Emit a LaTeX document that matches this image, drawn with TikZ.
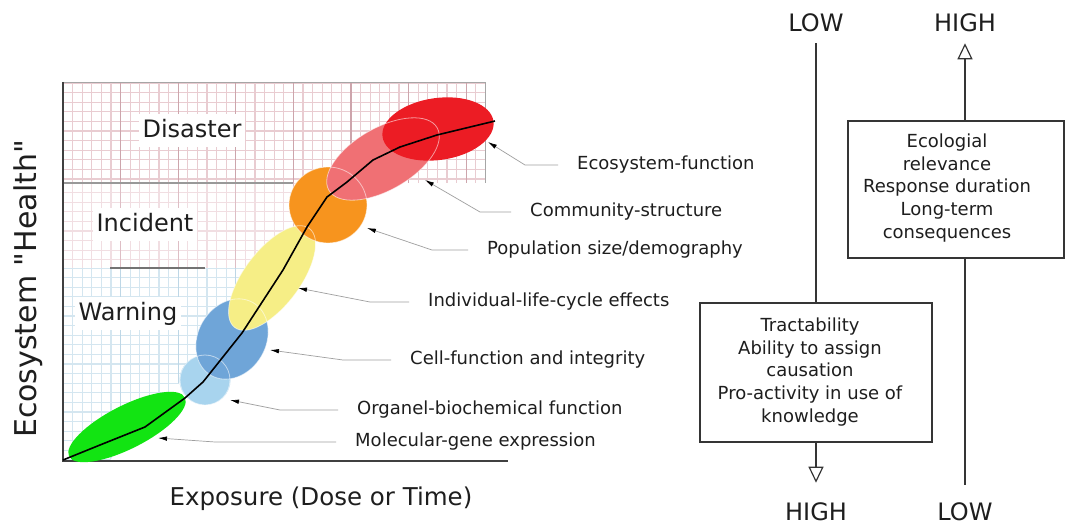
\documentclass[tikz,border=0pt]{standalone}
\usepackage{fontspec}
\setmainfont{DejaVu Sans}
% plain family without TeX ligature mapping, so " stays a straight quote
\newfontfamily\plainsans{DejaVu Sans}
\usetikzlibrary{arrows.meta,shapes.geometric}

\definecolor{redE}{RGB}{236,28,36}
\definecolor{pinkE}{RGB}{240,112,116}
\definecolor{orangeE}{RGB}{247,148,30}
\definecolor{yellowE}{RGB}{246,238,134}
\definecolor{blueE}{RGB}{111,165,216}
\definecolor{lblueE}{RGB}{168,212,238}
\definecolor{greenE}{RGB}{18,228,18}
\definecolor{gridPk}{RGB}{233,204,209}
\definecolor{gridPkM}{RGB}{205,165,172}
\definecolor{gridLp}{RGB}{241,222,226}
\definecolor{gridLpM}{RGB}{222,190,197}
\definecolor{gridBl}{RGB}{212,230,240}
\definecolor{gridBlM}{RGB}{190,215,230}
\definecolor{ink}{RGB}{30,30,30}

\begin{document}
\begin{tikzpicture}[x=1pt,y=-1pt,
  blob/.style={ellipse, draw=none, inner sep=0pt, outer sep=0pt},
  ghost/.style={draw=white, draw opacity=0.55, line width=0.8pt},
  zone/.style={fill=white, text=ink, font=\fontsize{24}{28}\selectfont,
    inner xsep=4pt, inner ysep=5pt, text height=18pt, text depth=5pt},
  lab/.style={anchor=west, text=ink, font=\fontsize{18}{22}\selectfont,
    inner xsep=19pt, inner ysep=0pt, text height=13pt, text depth=4pt},
  pointer/.style={draw=gray!75, line width=0.7pt,
    -{Latex[length=9pt,width=4.5pt,black]}},
  big/.style={text=ink, font=\fontsize{24}{28}\selectfont, inner sep=0pt},
  box/.style={draw=ink!90, line width=1.3pt, minimum width=#1, inner sep=0pt},
  boxtext/.style={text=ink, align=center, font=\fontsize{18}{22.6}\selectfont},
  axisline/.style={draw=ink!90, line width=1.3pt},
  opentip/.style={-{Triangle[open,length=16pt,width=15pt,line width=1.2pt]}},
  curve/.style={draw=black, line width=1.6pt, line join=round}
]
\useasboundingbox[fill=white] (0,0) rectangle (1066,527);

% ---- grid backgrounds of the three zones ----
\begin{scope}
  \clip (63,83) rectangle (485,183);
  \foreach \k in {0,...,44} \draw[gridPk, line width=1.2pt] ({63+9.6*\k},83) -- ({63+9.6*\k},183);
  \foreach \k in {0,...,10} \draw[gridPk, line width=1.2pt] (63,{83+9.6*\k}) -- (485,{83+9.6*\k});
  \foreach \k in {0,6,...,42} \draw[gridPkM, line width=1.2pt] ({63+9.6*\k},83) -- ({63+9.6*\k},183);
\end{scope}
\begin{scope}
  \clip (63,183) rectangle (300,268);
  \foreach \k in {0,...,25} \draw[gridLp, line width=1.2pt] ({63+9.6*\k},183) -- ({63+9.6*\k},268);
  \foreach \k in {0,...,9} \draw[gridLp, line width=1.2pt] (63,{183+9.6*\k}) -- (300,{183+9.6*\k});
  \foreach \k in {0,6,...,24} \draw[gridLpM, line width=1.2pt] ({63+9.6*\k},183) -- ({63+9.6*\k},268);
\end{scope}
\begin{scope}
  \clip (63,268) -- (255,268) -- (255,300) -- (205,360) -- (160,400) -- (110,460) -- (63,460) -- cycle;
  \foreach \k in {0,...,21} \draw[gridBl, line width=1.2pt] ({63+9.6*\k},268) -- ({63+9.6*\k},460);
  \foreach \k in {0,...,20} \draw[gridBl, line width=1.2pt] (63,{268+9.6*\k}) -- (255,{268+9.6*\k});
  \foreach \k in {0,6,...,18} \draw[gridBlM, line width=1.2pt] ({63+9.6*\k},268) -- ({63+9.6*\k},460);
\end{scope}

% zone frame and separators
\draw[gray!70, line width=1pt] (63,83) -- (485,83) -- (485,183);
\draw[gray!80, line width=1.2pt] (63,183) -- (293,183);
\draw[gray!90!black, line width=1.2pt] (110,268) -- (205,268);

% axes
\draw[ink!85, line width=1.3pt] (63,82) -- (63,461) -- (508,461);

% zone names
\node[zone] (dis) at (192,130.5) {Disaster};
\node[zone] (inc) at (145,224.5) {Incident};
\node[zone] (war) at (128,313.5) {Warning};

% ---- response ellipses, lowest level first ----
\node[blob, fill=greenE,  minimum width=130pt, minimum height=43pt, rotate=27] (gene) at (127,427) {};
\node[blob, fill=lblueE,  minimum width=51pt,  minimum height=50pt] (organ) at (205,380) {};
\node[blob, fill=blueE,   minimum width=84pt,  minimum height=68pt, rotate=60] (cell) at (232,339) {};
\node[blob, fill=yellowE, minimum width=124pt, minimum height=56pt, rotate=53] (indiv) at (272,278) {};
\node[blob, fill=orangeE, minimum width=78pt,  minimum height=76pt] (pop) at (328,205) {};
\node[blob, fill=pinkE,   minimum width=125pt, minimum height=62pt, rotate=30] (comm) at (383,159) {};
\node[blob, fill=redE,    minimum width=112pt, minimum height=62pt, rotate=8] (eco) at (438,129) {};

% faint rims of the ellipses
\draw[ghost] (organ.center) circle [radius=25];
\draw[ghost, rotate around={60:(cell.center)}] (cell.center) ellipse [x radius=42, y radius=34];
\draw[ghost, rotate around={53:(indiv.center)}] (indiv.center) ellipse [x radius=62, y radius=28];
\draw[ghost] (pop.center) ellipse [x radius=39, y radius=38];
\draw[ghost, rotate around={30:(comm.center)}] (comm.center) ellipse [x radius=62.5, y radius=31];

% dose-response curve
\draw[curve] plot coordinates {(63,460) (100,445) (145,427) (185,398) (203,382)
  (242,333) (283,270) (307,227) (327,197) (347,182) (373,160) (400,147) (437,135) (495,121)};

% axis titles
\node[text=ink, font=\plainsans\fontsize{30}{34}\selectfont, rotate=90] (ytitle) at (28,289) {Ecosystem "Health"};
\node[text=ink, font=\fontsize{24.5}{29}\selectfont] (xtitle) at (321,499) {Exposure (Dose or Time)};

% ---- level labels with their pointers ----
\node[lab] (ecoL)   at (558,165) {Ecosystem-function};
\node[lab] (commL)  at (511,212) {Community-structure};
\node[lab] (popL)   at (468,250) {Population size/demography};
\node[lab] (indivL) at (409,302) {Individual-life-cycle effects};
\node[lab] (cellL)  at (391,360) {Cell-function and integrity};
\node[lab] (organL) at (338,410) {Organel-biochemical function};
\node[lab] (geneL)  at (336,442) {Molecular-gene expression};

\coordinate (ecoB) at (525,165);   \coordinate (ecoT) at (488,142);
\coordinate (commB) at (480,212);  \coordinate (commT) at (425,180);
\coordinate (popB) at (432,250);   \coordinate (popT) at (367,228);
\coordinate (indivB) at (370,302); \coordinate (indivT) at (298,288);
\coordinate (cellB) at (343,360);  \coordinate (cellT) at (270,350);
\coordinate (organB) at (280,410); \coordinate (organT) at (230,400);
\coordinate (geneB) at (215,442);  \coordinate (geneT) at (158,438);

\draw[pointer] (ecoL.west) -- (ecoB) -- (ecoT);
\draw[pointer] (commL.west) -- (commB) -- (commT);
\draw[pointer] (popL.west) -- (popB) -- (popT);
\draw[pointer] (indivL.west) -- (indivB) -- (indivT);
\draw[pointer] (cellL.west) -- (cellB) -- (cellT);
\draw[pointer] (organL.west) -- (organB) -- (organT);
\draw[pointer] (geneL.west) -- (geneB) -- (geneT);

% ---- trade-off scales on the right ----
\node[big] (lowT)  at (816,23) {LOW};
\node[big] (highT) at (965,23) {HIGH};
\node[big] (highB) at (816,512) {HIGH};
\node[big] (lowB)  at (965,512) {LOW};

\node[box=232pt, minimum height=139pt] (boxL) at (816,372.5) {};
\node[box=216pt, minimum height=137pt] (boxR) at (956,189.5) {};
\node[boxtext] (tL) at (810,372) {Tractability\\Ability to assign\\causation\\Pro-activity in use of\\knowledge};
\node[boxtext] (tR) at (947,188) {Ecologial\\relevance\\Response duration\\Long-term\\consequences};

\draw[axisline, shorten <=11pt] (lowT.south) -- (boxL.north);
\draw[axisline, opentip, shorten >=20pt] (boxL.south) -- (highB.north);
\draw[axisline, shorten <=18pt] (lowB.north) -- (boxR.south -| lowB.north);
\draw[axisline, opentip, shorten >=11pt] (boxR.north -| highT.south) -- (highT.south);
\end{tikzpicture}
\end{document}
